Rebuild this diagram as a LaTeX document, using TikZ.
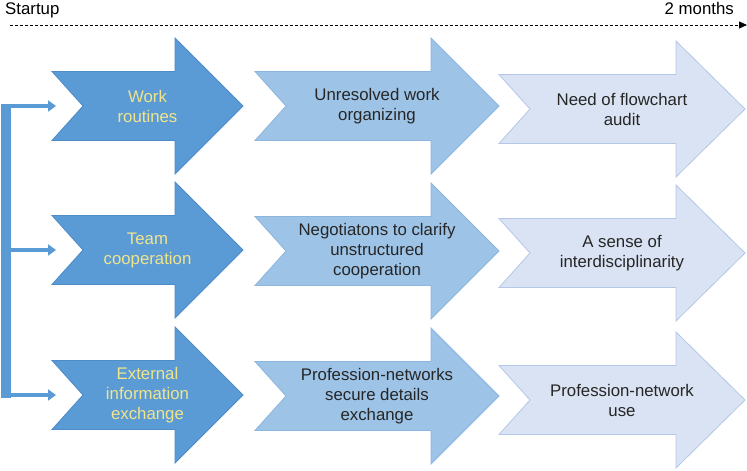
\documentclass[tikz,border=0pt]{standalone}
\usepackage{fontspec}
\setmainfont{Liberation Sans}
\usetikzlibrary{arrows.meta}
\definecolor{dkfill}{RGB}{91,155,213}
\definecolor{dkline}{RGB}{78,140,200}
\definecolor{mdfill}{RGB}{157,195,230}
\definecolor{mdline}{RGB}{140,182,222}
\definecolor{ltfill}{RGB}{218,227,243}
\definecolor{ltline}{RGB}{180,199,231}
\definecolor{ylw}{RGB}{240,228,140}
\newcommand\bigarr[8]{%
  \path[#6] ({#2},{#5-34.5}) -- ({#2+#3},{#5-34.5}) -- ({#2+#3},{#5-68}) -- ({#2+#4},{#5})
    -- ({#2+#3},{#5+68}) -- ({#2+#3},{#5+34.5}) -- ({#2},{#5+34.5}) -- ({#2+31},{#5}) -- cycle;
  \node[lbl,#7] (#1) at ({#2+#4/2},{#5}) {#8};}
\begin{document}
\begin{tikzpicture}[x=1pt,y=-1pt,
  lbl/.style={align=center,font=\fontsize{16.8}{20}\selectfont,inner sep=0pt},
  darkarr/.style={fill=dkfill,draw=dkline,line width=0.8pt,line join=miter},
  midarr/.style={fill=mdfill,draw=mdline,line width=0.8pt,line join=miter},
  lightarr/.style={fill=ltfill,draw=ltline,line width=0.8pt,line join=miter},
  ytext/.style={text=ylw},
  ktext/.style={text=black!85},
  branch/.style={draw=dkfill,line width=4.5pt,-{Triangle[length=8pt,width=11pt]}},
  timeline/.style={draw=black,line width=0.8pt,dash pattern=on 3pt off 2pt,-{Triangle[length=8pt,width=7pt]}}]
\useasboundingbox (0,0) rectangle (747,471);
% timeline
\node[lbl,anchor=base west] (start) at (5,14) {Startup};
\node[lbl,anchor=base east] (end) at (734,14) {2 months};
\coordinate (tl0) at (10,25);
\coordinate (tl1) at (747,25);
\draw[timeline] (tl0) -- (tl1);
% dark column
\bigarr{a1}{52}{123}{191}{106}{darkarr}{ytext}{Work\\routines}
\bigarr{a2}{52}{123}{191}{250}{darkarr}{ytext}{Team\\cooperation}
\bigarr{a3}{52}{123}{191}{395}{darkarr}{ytext}{External\\information\\exchange}
% middle column
\bigarr{b1}{255}{176}{244}{106}{midarr}{ktext}{Unresolved work\\organizing}
\bigarr{b2}{255}{176}{244}{251}{midarr}{ktext}{Negotiatons to clarify\\unstructured\\cooperation}
\bigarr{b3}{255}{176}{244}{396}{midarr}{ktext}{Profession-networks\\secure details\\exchange}
% right column
\bigarr{c1}{499}{177}{246}{109}{lightarr}{ktext}{Need of flowchart\\audit}
\bigarr{c2}{499}{177}{246}{253}{lightarr}{ktext}{A sense of\\interdisciplinarity}
\bigarr{c3}{499}{177}{246}{400}{lightarr}{ktext}{Profession-network\\use}
% bracket
\coordinate (k1) at (6,106);
\coordinate (k2) at (6,250);
\coordinate (k3) at (6,395);
\coordinate (t1) at (56,106);
\coordinate (t2) at (56,250);
\coordinate (t3) at (56,395);
\fill[dkfill] (1,103.5) rectangle (11,397.5);
\draw[branch] (k1) -- (t1);
\draw[branch] (k2) -- (t2);
\draw[branch] (k3) -- (t3);
\end{tikzpicture}
\end{document}
